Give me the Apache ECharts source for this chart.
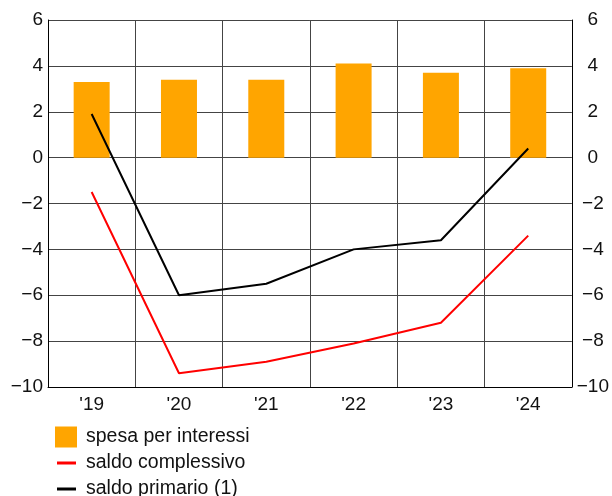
<!DOCTYPE html>
<html><head><meta charset="utf-8">
<script src="https://cdn.jsdelivr.net/npm/echarts@6/dist/echarts.min.js"></script>
<style>html,body{margin:0;padding:0;background:#fff}#c{width:612px;height:496px}</style>
</head><body><div id="c"></div>
<script>
const categories = ["'19", "'20", "'21", "'22", "'23", "'24"];
const spesaInteressi = [3.3, 3.4, 3.4, 4.1, 3.7, 3.9];
const saldoComplessivo = [-1.5, -9.4, -8.9, -8.1, -7.2, -3.4];
const saldoPrimario = [1.9, -6.0, -5.5, -4.0, -3.6, 0.4];
const names = ['spesa per interessi', 'saldo complessivo', 'saldo primario (1)'];

const font = 'Liberation Sans, Arial, sans-serif';
const fmt = v => (v < 0 ? '\u2212' + Math.abs(v) : String(v));
const gridColor = '#444';
const chart = echarts.init(document.getElementById('c'), null, {renderer: 'canvas'});
const yBase = {
  type: 'value', min: -10, max: 6, interval: 2,
  axisTick: {show: false},
  axisLine: {show: true, lineStyle: {color: '#000', width: 1}},
};
const legendText = {fontSize: 19.5, color: '#111', fontFamily: font, padding: [7, 0, 0, 4], lineHeight: 20};
chart.setOption({
  animation: false,
  textStyle: {fontFamily: font},
  grid: {left: 48, right: 40, top: 20, bottom: 109, containLabel: false},
  xAxis: {
    type: 'category', data: categories, boundaryGap: true,
    axisTick: {show: false},
    axisLine: {onZero: false, lineStyle: {color: '#000', width: 1}},
    axisLabel: {color: '#111', fontSize: 19, fontFamily: font, margin: 8},
    splitLine: {show: true, interval: 0, lineStyle: {color: gridColor, width: 1}}
  },
  yAxis: [
    Object.assign({}, yBase, {
      position: 'left',
      axisLabel: {color: '#111', fontSize: 19, fontFamily: font, margin: 5, padding: [3, 0, 0, 0], formatter: fmt},
      splitLine: {show: true, lineStyle: {color: gridColor, width: 1}}
    }),
    Object.assign({}, yBase, {
      position: 'right',
      axisLabel: {color: '#111', fontSize: 19, fontFamily: font, margin: 21, align: 'center', padding: [3, 0, 0, 0], formatter: fmt},
      splitLine: {show: false}
    })
  ],
  legend: [
    {orient: 'vertical', left: 55, top: 423.5, padding: 0, itemWidth: 22, itemHeight: 21, icon: 'rect',
     data: [names[0]], textStyle: Object.assign({}, legendText, {padding: [7, 0, 0, 4]})},
    {orient: 'vertical', left: 57, top: 449.5, padding: 0, itemWidth: 19, itemHeight: 3, icon: 'rect',
     data: [names[1]], textStyle: Object.assign({}, legendText, {padding: [7, 0, 0, 5]})},
    {orient: 'vertical', left: 57, top: 475.5, padding: 0, itemWidth: 19, itemHeight: 3, icon: 'rect',
     data: [names[2]], textStyle: Object.assign({}, legendText, {padding: [7, 0, 0, 5]})}
  ],
  series: [
    {name: names[0], type: 'bar', data: spesaInteressi, barWidth: 36,
     itemStyle: {color: '#FFA500'}},
    {name: names[1], type: 'line', data: saldoComplessivo, symbol: 'none',
     lineStyle: {color: '#ff0000', width: 2}, itemStyle: {color: '#ff0000'}},
    {name: names[2], type: 'line', data: saldoPrimario, symbol: 'none',
     lineStyle: {color: '#000', width: 2}, itemStyle: {color: '#000'}}
  ]
});
</script></body></html>
